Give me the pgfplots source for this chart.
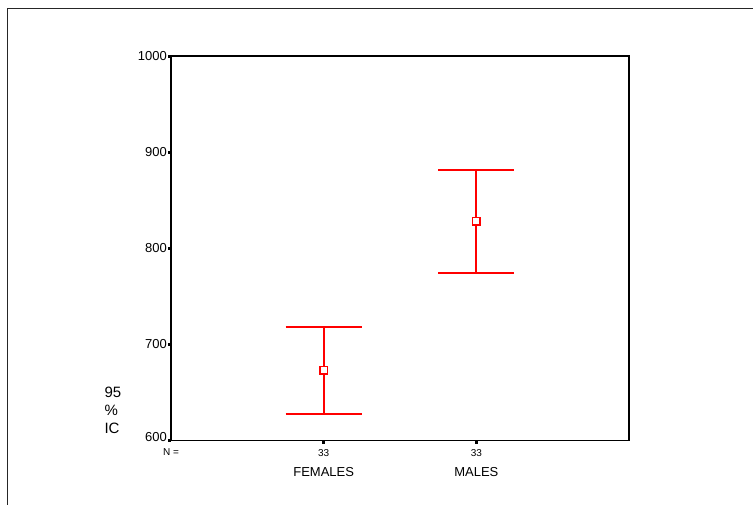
\documentclass[border=0pt]{standalone}
\usepackage{pgfplots}
\pgfplotsset{compat=1.18}
\usepackage{fontspec}
\setmainfont{Liberation Sans}
\definecolor{ebred}{RGB}{255,0,0}
\begin{document}
\begin{tikzpicture}[x=1pt,y=1pt]
\useasboundingbox (0,0) rectangle (753,504);
\draw[line width=1pt, black!85] (7,-20) -- (7,495) -- (773,495);
\begin{axis}[at={(171pt,63.5pt)}, anchor=south west, scale only axis,
  width=458pt, height=384.5pt,
  xmin=0, xmax=3, ymin=600, ymax=1000,
  ytick={600,700,800,900,1000},
  yticklabels={\raisebox{7pt}{600},700,800,900,1000},
  xtick={1,2}, xticklabels={33,33},
  xtick pos=bottom, ytick pos=left,
  tick align=outside, major tick length=3pt,
  tick style={line width=3pt, black},
  axis line style={line width=1.8pt, black},
  /pgf/number format/assume math mode=true,
  yticklabel style={font=\fontsize{13}{13}\selectfont, inner sep=1pt},
  xticklabel style={font=\fontsize{10}{10}\selectfont, inner sep=1pt, yshift=-5pt},
  clip=false,
]
% FEMALES: mean 673, 95% CI 628-718
\addplot[draw=ebred, line width=2pt, mark=none] coordinates {(1,628) (1,718)};
\addplot[draw=ebred, line width=2pt, mark=none] coordinates {(0.751,718) (1.249,718)};
\addplot[draw=ebred, line width=2pt, mark=none] coordinates {(0.751,628) (1.249,628)};
% MALES: mean 828, 95% CI 774-881
\addplot[draw=ebred, line width=2pt, mark=none] coordinates {(2,774) (2,881)};
\addplot[draw=ebred, line width=2pt, mark=none] coordinates {(1.751,881) (2.249,881)};
\addplot[draw=ebred, line width=2pt, mark=none] coordinates {(1.751,774) (2.249,774)};
% means
\addplot[ebred, only marks, mark=square*, mark size=3.7pt,
  mark options={line width=1.2pt, draw=ebred, fill=white}]
  coordinates {(1,673) (2,828)};
\node[font=\fontsize{13}{13}\selectfont] at (axis cs:1,600) [yshift=-32pt] {FEMALES};
\node[font=\fontsize{13}{13}\selectfont] at (axis cs:2,600) [yshift=-32pt] {MALES};
\end{axis}
\node[font=\fontsize{10}{10}\selectfont] at (171,52) {N =};
\node[font=\fontsize{15}{18}\selectfont, align=left, anchor=west] at (101,94) {95\\\%\\IC};
\end{tikzpicture}
\end{document}
